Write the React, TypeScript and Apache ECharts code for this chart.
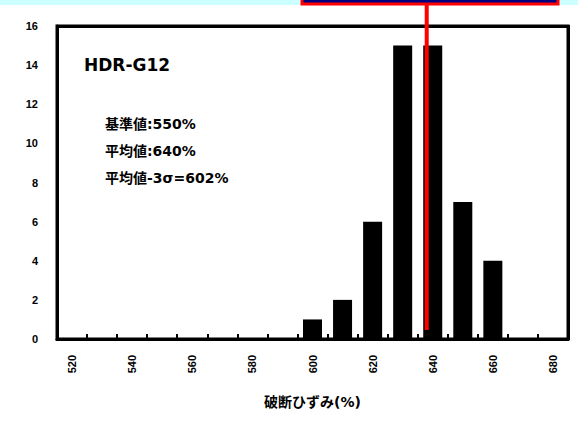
import React, { useEffect, useRef } from "react";
import * as echarts from "echarts";

const binCenters = [600, 610, 620, 630, 640, 650, 660];
const counts = [1, 2, 6, 15, 15, 7, 4];
const xLabelValues = [520, 540, 560, 580, 600, 620, 640, 660, 680];
const xTickValues = [525, 535, 545, 555, 565, 575, 585, 595, 605, 615, 625, 635, 645, 655, 665, 675];
const xMin = 515;
const xMax = 685;
const yMin = 0;
const yMax = 16;
const yInterval = 2;
const meanLineValue = 638;
const titleText = "HDR-G12";
const noteLines = ["基準値:550%", "平均値:640%", "平均値-3σ=602%"];
const xAxisName = "破断ひずみ(%)";

const LATIN = "'Liberation Sans', Arial, 'Noto Sans CJK JP', sans-serif";
const CJK = "'DejaVu Sans', 'Noto Sans CJK JP', sans-serif";

export default function App() {
  const ref = useRef<HTMLDivElement>(null);
  useEffect(() => {
    if (!ref.current) return;
    const chart = echarts.init(ref.current, null, { renderer: "svg" });
    const option: any = {
      animation: false,
      backgroundColor: "#ffffff",
      grid: {
        left: 57,
        right: 10,
        top: 26,
        bottom: 82,
        show: true,
        borderColor: "#000000",
        borderWidth: 3,
        backgroundColor: "#ffffff",
      },
      xAxis: {
        type: "value",
        min: xMin,
        max: xMax,
        name: xAxisName,
        nameLocation: "middle",
        nameGap: 56,
        nameTextStyle: { fontFamily: CJK, fontWeight: "bold", fontSize: 14, color: "#000" },
        axisLine: { show: true, onZero: false, lineStyle: { color: "#000000", width: 3 } },
        axisTick: {
          show: true,
          inside: true,
          length: 5,
          customValues: xTickValues,
          lineStyle: { color: "#000000", width: 2 },
        },
        axisLabel: {
          show: true,
          rotate: 90,
          margin: 16,
          customValues: xLabelValues,
          fontFamily: LATIN,
          fontWeight: "bold",
          fontSize: 11,
          color: "#000",
        },
        splitLine: { show: false },
      },
      yAxis: {
        type: "value",
        min: yMin,
        max: yMax,
        interval: yInterval,
        axisLine: { show: true, onZero: false, lineStyle: { color: "#000000", width: 3 } },
        axisTick: { show: false },
        splitLine: { show: false },
        axisLabel: {
          margin: 19,
          fontFamily: LATIN,
          fontWeight: "bold",
          fontSize: 11,
          color: "#000",
        },
      },
      series: [
        {
          type: "bar",
          barWidth: 19,
          itemStyle: { color: "#000" },
          data: binCenters.map((b, i) => [b, counts[i]]),
          z: 1,
        },
      ],
    };
    chart.setOption(option);

    const toX = (v: number) => chart.convertToPixel({ xAxisIndex: 0 }, v) as number;
    const toY = (v: number) => chart.convertToPixel({ yAxisIndex: 0 }, v) as number;
    const xPx = toX(meanLineValue);
    const left = toX(xMin);
    const right = toX(xMax);
    const top = toY(yMax);
    const bottom = toY(yMin);

    chart.setOption({
      graphic: [
        {
          type: "rect",
          shape: { x: left - 1, y: top - 1, width: 3, height: bottom - top + 2 },
          style: { fill: "#000000" },
          z: 50,
        },
        {
          type: "rect",
          shape: { x: right - 1, y: top - 1, width: 3, height: bottom - top + 2 },
          style: { fill: "#000000" },
          z: 50,
        },
        {
          type: "rect",
          shape: { x: left - 1, y: top - 1, width: right - left + 2, height: 3 },
          style: { fill: "#000000" },
          z: 50,
        },
        {
          type: "rect",
          shape: { x: left - 1, y: bottom - 1, width: right - left + 2, height: 3 },
          style: { fill: "#000000" },
          z: 50,
        },
        {
          type: "rect",
          shape: { x: 0, y: 0, width: 578, height: 5 },
          style: { fill: "#ccffff" },
          z: 60,
        },
        {
          type: "rect",
          shape: { x: 302, y: -4, width: 256, height: 8 },
          style: { fill: "#000080", stroke: "#ff0000", lineWidth: 3 },
          z: 61,
        },
        {
          type: "line",
          shape: { x1: xPx, y1: 5, x2: xPx, y2: bottom - 9 },
          style: { stroke: "#ff0000", lineWidth: 4 },
          z: 62,
        },
        {
          type: "text",
          left: 84,
          top: 56,
          style: {
            text: titleText,
            font: `bold 17px ${CJK}`,
            fill: "#000",
          },
          z: 62,
        },
        ...noteLines.map((t, i) => ({
          type: "text",
          left: 105,
          top: 117 + i * 27,
          style: {
            text: t,
            font: `bold 14px ${CJK}`,
            fill: "#000",
          },
          z: 62,
        })),
      ],
    });

    return () => chart.dispose();
  }, []);
  return (
    <div
      ref={ref}
      style={{ position: "absolute", left: 0, top: 0, width: 578, height: 421, background: "#fff" }}
    />
  );
}
